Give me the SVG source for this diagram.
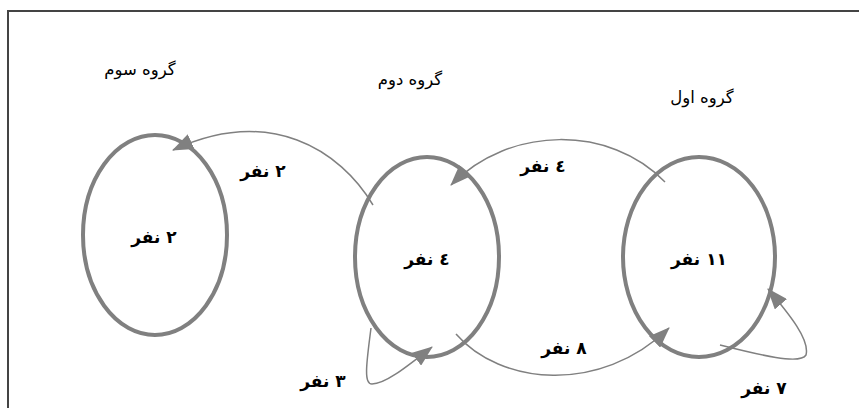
<svg xmlns="http://www.w3.org/2000/svg" width="859" height="408" viewBox="0 0 859 408">
<defs>
<style>
.frame{fill:none;stroke:#444;stroke-width:2}
.node{fill:none;stroke:#808080;stroke-width:4}
.edge{fill:none;stroke:#808080;stroke-width:1.5}
.title{font-family:"DejaVu Sans",sans-serif;font-size:16.5px;fill:#000;text-anchor:middle}
.lbl{font-family:"DejaVu Sans",sans-serif;font-size:17px;font-weight:bold;fill:#000;text-anchor:middle}
</style>
<marker id="arr" markerUnits="userSpaceOnUse" markerWidth="22" markerHeight="16" refX="20" refY="8" orient="auto" viewBox="0 0 22 16">
<path d="M0,0 L21,8 L0,16 Z" fill="#808080"/>
</marker>
</defs>
<rect width="859" height="408" fill="#fff"/>
<path class="frame" d="M8,408 L8,11 L859,11"/>
<g id="titles">
<text class="title" x="140" y="75">گروه سوم</text>
<text class="title" x="410" y="85">گروه دوم</text>
<text class="title" x="702" y="103">گروه اول</text>
</g>
<g id="node3">
<ellipse class="node" cx="155" cy="235" rx="72" ry="100"/>
<text class="lbl" x="154" y="243">٢ نفر</text>
</g>
<g id="node2">
<ellipse class="node" cx="427" cy="257" rx="72" ry="100"/>
<text class="lbl" x="427" y="265">٤ نفر</text>
</g>
<g id="node1">
<ellipse class="node" cx="699" cy="257" rx="76" ry="100"/>
<text class="lbl" x="699" y="265">١١ نفر</text>
</g>
<g id="connectors">
<path class="edge" marker-end="url(#arr)" d="M373,205 C340,150 270,105 173,150"/>
<path class="edge" marker-end="url(#arr)" d="M665,182 C610,125 510,125 451,185"/>
<path class="edge" marker-end="url(#arr)" d="M456,334 C500,385 600,395 669,328"/>
<path class="edge" marker-end="url(#arr)" d="M371,328 C367,360 363,384 372,384 C385,384 405,368 432,347"/>
<path class="edge" marker-end="url(#arr)" d="M720,345 C760,355 800,365 806,355 C810,340 790,315 768,289"/>
</g>
<g id="edge-labels">
<text class="lbl" x="263" y="177">٢ نفر</text>
<text class="lbl" x="543" y="172">٤ نفر</text>
<text class="lbl" x="564" y="354">٨ نفر</text>
<text class="lbl" x="323" y="387">٣ نفر</text>
<text class="lbl" x="764" y="394">٧ نفر</text>
</g>
</svg>
